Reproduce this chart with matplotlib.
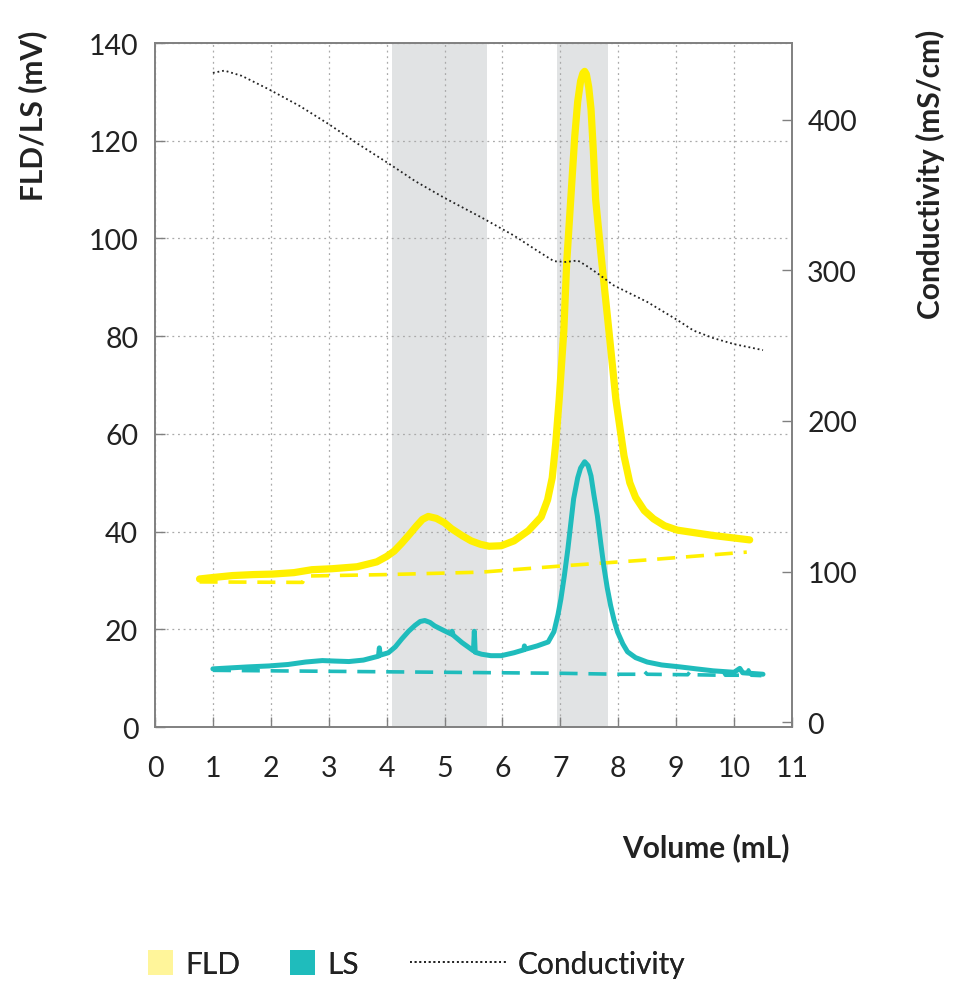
import matplotlib
matplotlib.use('Agg')
import matplotlib.pyplot as plt
from matplotlib.patches import Patch
from matplotlib.lines import Line2D

plt.rcParams['font.family'] = ['Lato', 'DejaVu Sans']

# FLD trace (mV) vs volume (mL)
fld_x = [0.77, 1.0, 1.34, 1.7, 2.03, 2.4, 2.71, 3.06, 3.49, 3.83, 4.0, 4.13, 4.26, 4.4,
         4.52, 4.62, 4.72, 4.86, 5.0, 5.12, 5.3, 5.46, 5.62, 5.77, 5.98, 6.2, 6.45, 6.67,
         6.78, 6.86, 6.92, 6.98, 7.06, 7.11, 7.18, 7.25, 7.3, 7.35, 7.39, 7.42, 7.45, 7.49,
         7.53, 7.57, 7.61, 7.7, 7.84, 7.96, 8.04, 8.1, 8.2, 8.3, 8.45, 8.61, 8.8, 9.02,
         9.64, 10.27]
fld_y = [30.3, 30.6, 31.0, 31.2, 31.3, 31.6, 32.2, 32.4, 32.8, 33.8, 34.9, 36.0, 37.6, 39.5,
         41.2, 42.5, 43.1, 42.7, 41.8, 40.6, 39.2, 38.1, 37.4, 37.0, 37.1, 38.1, 40.2, 43.0,
         46.5, 51.0, 58.0, 67.0, 81.0, 95.0, 108.0, 121.0, 128.0, 132.2, 133.8, 134.2, 133.6,
         131.0, 126.5, 118.0, 108.0, 97.0, 81.0, 67.0, 60.4, 55.5, 50.0, 47.0, 44.3, 42.6,
         41.2, 40.3, 39.2, 38.3]
fld_base_x = [0.77, 2.55, 2.6, 4.0, 5.64, 7.06, 8.5, 10.22]
fld_base_y = [29.7, 29.6, 30.9, 31.2, 31.7, 33.0, 34.2, 35.8]

# LS trace (mV)
ls_x = [1.0, 1.3, 1.6, 1.97, 2.3, 2.6, 2.89, 3.1, 3.35, 3.6, 3.86, 3.875, 3.89, 4.03,
        4.15, 4.26, 4.38, 4.49, 4.58, 4.66, 4.75, 4.83, 4.98, 5.12, 5.13, 5.15, 5.3, 5.5,
        5.515, 5.53, 5.64, 5.8, 5.98, 6.2, 6.37, 6.38, 6.39, 6.6, 6.79, 6.89, 6.96, 7.01,
        7.07, 7.13, 7.23, 7.3, 7.35, 7.42, 7.48, 7.53, 7.58, 7.64, 7.7, 7.75, 7.81, 7.87,
        7.93, 7.99, 8.08, 8.16, 8.3, 8.5, 8.75, 9.07, 9.35, 9.64, 10.0, 10.1, 10.15, 10.5]
ls_y = [11.9, 12.1, 12.3, 12.5, 12.8, 13.3, 13.6, 13.5, 13.4, 13.7, 14.5, 16.2, 14.7, 15.2,
        16.4, 18.0, 19.6, 20.8, 21.6, 21.8, 21.4, 20.7, 19.8, 19.0, 19.6, 18.8, 17.3, 15.6,
        19.6, 15.3, 14.9, 14.6, 14.6, 15.2, 15.8, 16.6, 15.9, 16.6, 17.4, 19.5, 23.0, 26.2,
        31.0, 36.4, 46.7, 51.0, 53.0, 54.3, 53.5, 51.4, 47.5, 43.2, 37.5, 33.0, 28.5, 24.8,
        21.8, 19.4, 17.0, 15.4, 14.2, 13.3, 12.7, 12.3, 11.9, 11.5, 11.2, 12.0, 11.1, 10.8]
ls_base_x = [1.0, 2.0, 3.0, 4.0, 5.0, 6.0, 7.0, 8.0, 8.4, 8.45, 8.5, 9.2, 9.25, 9.3, 9.75,
             9.8, 9.85, 10.2, 10.25, 10.3, 10.5]
ls_base_y = [11.6, 11.5, 11.4, 11.3, 11.2, 11.1, 11.0, 10.8, 10.8, 11.4, 10.8, 10.7, 11.5,
             10.7, 10.6, 11.6, 10.6, 10.6, 11.7, 10.6, 10.5]

# Conductivity (mS/cm), right axis
cond_x = [1.0, 1.2, 1.5, 1.97, 2.5, 3.0, 3.5, 4.03, 4.5, 5.0, 5.64, 6.2, 6.6, 6.89, 7.1,
          7.3, 7.45, 7.64, 7.92, 8.5, 9.02, 9.3, 9.64, 10.0, 10.5]
cond_y = [431, 432.5, 429, 420, 409, 397, 384, 371, 359, 348, 335, 323, 313, 306, 305.5,
          306.5, 303, 298, 290, 279, 267, 260, 255, 251, 247]

# collected fractions
fractions = [(4.1, 5.73), (6.94, 7.82)]

x_ticks = list(range(0, 12))
y_ticks = [0, 20, 40, 60, 80, 100, 120, 140]
cond_ticks = [0, 100, 200, 300, 400]

yellow = '#fff000'
teal = '#1fbcbc'
txt = '#222222'
edge = '#808080'

fig = plt.figure(figsize=(9.59, 9.87), dpi=100)
ax = fig.add_axes([0.1616, 0.2624, 0.6642, 0.693])

for a, b in fractions:
    ax.axvspan(a, b, color='#e1e3e4', lw=0, zorder=1)

ax.plot(fld_base_x, fld_base_y, color=yellow, lw=2.6, ls=(0, (5, 3)), zorder=3)
ax.plot(ls_base_x, ls_base_y, color=teal, lw=2.6, ls=(0, (5, 3)), zorder=3)
ax.plot(fld_x, fld_y, color=yellow, lw=5.2, solid_capstyle='round',
        solid_joinstyle='round', zorder=4)
ax.plot(ls_x, ls_y, color=teal, lw=3.6, solid_capstyle='round',
        solid_joinstyle='round', zorder=4)

ax.set_xlim(0, 11)
ax.set_ylim(0, 140)
ax.set_xticks(x_ticks)
ax.set_yticks(y_ticks)
ax.grid(True, color='#aaaaaa', lw=0.9, ls=(0, (1.5, 3)))
ax.tick_params(axis='both', direction='in', length=7, width=1, color=edge,
               labelsize=20.5, labelcolor=txt)
ax.tick_params(axis='x', pad=20)
ax.tick_params(axis='y', pad=12)
for s in ax.spines.values():
    s.set_color(edge)
    s.set_linewidth(1.2)

ax2 = ax.twinx()
ax2.plot(cond_x, cond_y, color='#222222', lw=1.3, ls=(0, (1, 1.6)), zorder=5)
ax2.set_ylim(-3.1, 450.8)
ax2.set_yticks(cond_ticks)
ax2.tick_params(axis='y', direction='in', length=7, width=1, color=edge,
                labelsize=20.5, labelcolor=txt, pad=11)
for s in ax2.spines.values():
    s.set_color(edge)
    s.set_linewidth(1.2)

fig.text(33 / 959, 1 - 116 / 987, 'FLD/LS (mV)', rotation=90, ha='center', va='center',
         fontsize=21.5, fontweight='bold', color=txt)
fig.text(930 / 959, 1 - 174 / 987, 'Conductivity (mS/cm)', rotation=90, ha='center',
         va='center', fontsize=21.5, fontweight='bold', color=txt)
fig.text(790 / 959, 1 - 848 / 987, 'Volume (mL)', ha='right', va='center',
         fontsize=21.5, fontweight='bold', color=txt)

legend_items = [
    (Patch(facecolor='#fff59a', edgecolor='none'), 'FLD', 148, 0.84),
    (Patch(facecolor=teal, edgecolor='none'), 'LS', 290, 0.84),
    (Line2D([], [], color='#222222', lw=1.3, ls=(0, (1, 1.6))), 'Conductivity', 410, 3.2),
]
for handle, label, xpix, hl in legend_items:
    lg = fig.legend([handle], [label], loc='center left',
                    bbox_to_anchor=(xpix / 959, 1 - 965 / 987), frameon=False,
                    fontsize=21.5, handlelength=hl, handleheight=0.9, handletextpad=0.4,
                    borderpad=0, borderaxespad=0, labelcolor=txt)
    fig.add_artist(lg)

fig.savefig('out.png', dpi=100)
